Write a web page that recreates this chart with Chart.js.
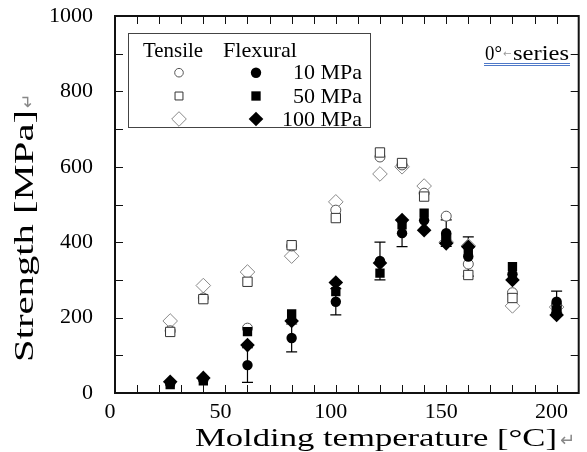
<!DOCTYPE html>
<html>
<head>
<meta charset="utf-8">
<script src="https://cdn.jsdelivr.net/npm/chart.js@4.4.1/dist/chart.umd.min.js"></script>
<style>
  html, body { margin: 0; padding: 0; background: #fff; }
  #wrap { position: relative; width: 587px; height: 452px; }
</style>
</head>
<body>
<div id="wrap"><canvas id="strength-chart"></canvas></div>
<script>
// molding temperature [°C]
const temperatures = [25, 40, 60, 80, 100, 120, 130, 140, 150, 160, 180, 200];

// tensile strength [MPa] (open markers)
const tensile10 = [165, 252, 172, 390, 485, 626, 605, 530, 469, 342, 266, 235];
const tensile50 = [162, 249, 295, 392, 464, 638, 610, 521, 410, 313, 252, 225];
const tensile100 = [191, 285, 321, 363, 507, 581, 600, 549, 400, 390, 231, 228];

// flexural strength [MPa] (filled markers)
const flexural10 = [25, 35, 74, 146, 242, 350, 424, 458, 424, 362, 315, 242];
const flexural10Err = [0, 0, 46, 37, 35, 50, 36, 0, 35, 52, 0, 28];
const flexural50 = [22, 32, 163, 210, 269, 318, 446, 477, 415, 372, 335, 220];
const flexural100 = [30, 40, 127, 191, 293, 345, 459, 432, 397, 388, 300, 207];

const pressureLabels = ['10 MPa', '50 MPa', '100 MPa'];

const SERIF = '"Liberation Serif", "Times New Roman", serif';

function points(values) {
    return temperatures.map((t, i) => ({x: t, y: values[i]}));
}

const styles = {
    t10: {pointStyle: 'circle', radius: 5, color: '#555'},
    t50: {pointStyle: 'rect', radius: 6.6, color: '#333'},
    t100: {pointStyle: 'rectRot', radius: 7.3, color: '#888'},
    f10: {pointStyle: 'circle', radius: 5.2},
    f50: {pointStyle: 'rect', radius: 6.6},
    f100: {pointStyle: 'rectRot', radius: 7.3}
};

function openSet(label, values, st) {
    return {
        label: label,
        data: points(values),
        pointStyle: st.pointStyle,
        pointRadius: st.radius,
        pointHoverRadius: st.radius,
        backgroundColor: '#fff',
        borderColor: st.color,
        pointBorderWidth: 1,
        showLine: false
    };
}

function filledSet(label, values, st) {
    return {
        label: label,
        data: points(values),
        pointStyle: st.pointStyle,
        pointRadius: st.radius,
        pointHoverRadius: st.radius,
        backgroundColor: '#000',
        borderColor: '#000',
        pointBorderWidth: 0,
        showLine: false
    };
}

// text squeezed or widened to a given width (the source font is wider than Times)
function wideText(ctx, text, x, y, width) {
    const s = width / ctx.measureText(text).width;
    ctx.save();
    ctx.translate(x, y);
    ctx.scale(s, 1);
    ctx.fillText(text, 0, 0);
    ctx.restore();
}

// error bars for flexural 10 MPa, drawn under the markers
const errorBars = {
    id: 'errorBars',
    beforeDatasetsDraw(chart) {
        const ctx = chart.ctx;
        const xs = chart.scales.x, ys = chart.scales.y;
        ctx.save();
        ctx.strokeStyle = '#000';
        ctx.lineWidth = 1.2;
        temperatures.forEach((t, i) => {
            const e = flexural10Err[i];
            if (!e) return;
            const px = xs.getPixelForValue(t);
            const top = ys.getPixelForValue(flexural10[i] + e);
            const bot = ys.getPixelForValue(flexural10[i] - e);
            ctx.beginPath();
            ctx.moveTo(px, top); ctx.lineTo(px, bot);
            ctx.moveTo(px - 5.5, top); ctx.lineTo(px + 5.5, top);
            ctx.moveTo(px - 5.5, bot); ctx.lineTo(px + 5.5, bot);
            ctx.stroke();
        });
        ctx.restore();
    }
};

// box frame with inward ticks on all four sides
const frame = {
    id: 'frame',
    afterDraw(chart) {
        const ctx = chart.ctx;
        const a = chart.chartArea;
        const xs = chart.scales.x, ys = chart.scales.y;
        ctx.save();
        ctx.strokeStyle = '#111';
        ctx.lineWidth = 1;
        ctx.beginPath();
        for (let v = 10; v < 210; v += 10) {
            const px = Math.round(xs.getPixelForValue(v)) + 0.5;
            ctx.moveTo(px, a.bottom); ctx.lineTo(px, a.bottom - 8);
            ctx.moveTo(px, a.top); ctx.lineTo(px, a.top + 8);
        }
        for (let v = 100; v < 1000; v += 100) {
            const py = Math.round(ys.getPixelForValue(v)) + 0.5;
            ctx.moveTo(a.left, py); ctx.lineTo(a.left + 8, py);
            ctx.moveTo(a.right, py); ctx.lineTo(a.right - 8, py);
        }
        ctx.stroke();
        ctx.lineWidth = 2;
        ctx.strokeRect(a.left, a.top, a.right - a.left, a.bottom - a.top);
        ctx.restore();
    }
};

// axis titles, legend box and series note
const annotations = {
    id: 'annotations',
    afterDraw(chart) {
        const ctx = chart.ctx;
        ctx.save();
        ctx.textAlign = 'left';
        ctx.textBaseline = 'alphabetic';

        // x title
        ctx.fillStyle = '#000';
        ctx.font = '25px ' + SERIF;
        wideText(ctx, 'Molding temperature [°C]', 195, 446, 362);
        ctx.fillStyle = '#888';
        ctx.font = '18px "DejaVu Sans", sans-serif';
        ctx.fillText('↵', 560, 446);

        // y title
        ctx.save();
        ctx.translate(33, 362);
        ctx.rotate(-Math.PI / 2);
        ctx.fillStyle = '#000';
        ctx.font = '28px ' + SERIF;
        wideText(ctx, 'Strength [MPa]', 0, 0, 252);
        ctx.fillStyle = '#888';
        ctx.font = '17px "DejaVu Sans", sans-serif';
        ctx.fillText('↵', 254, 0);
        ctx.restore();

        // series note top right
        ctx.fillStyle = '#000';
        ctx.font = '20px ' + SERIF;
        wideText(ctx, '0°', 485, 60, 17);
        ctx.fillStyle = '#999';
        ctx.font = '10px "DejaVu Sans", sans-serif';
        ctx.fillText('←', 503, 57);
        ctx.fillStyle = '#000';
        ctx.font = '20px ' + SERIF;
        wideText(ctx, 'series', 513, 60, 56);
        ctx.strokeStyle = '#4f79c8';
        ctx.lineWidth = 1;
        ctx.beginPath();
        ctx.moveTo(484, 63.5); ctx.lineTo(570, 63.5);
        ctx.moveTo(484, 65.5); ctx.lineTo(570, 65.5);
        ctx.stroke();

        // legend box
        ctx.strokeStyle = '#444';
        ctx.lineWidth = 1;
        ctx.strokeRect(128.5, 33.5, 242, 94);
        ctx.fillStyle = '#000';
        ctx.font = '21px ' + SERIF;
        wideText(ctx, 'Tensile', 143, 57, 60);
        wideText(ctx, 'Flexural', 223, 57, 74);
        const rows = [72.7, 96, 119];
        const openStyles = [styles.t10, styles.t50, styles.t100];
        const fillStyles = [styles.f10, styles.f50, styles.f100];
        ctx.textAlign = 'right';
        ctx.textBaseline = 'middle';
        rows.forEach((y, i) => {
            const o = openStyles[i];
            ctx.fillStyle = '#fff';
            ctx.strokeStyle = o.color;
            ctx.lineWidth = 1;
            Chart.helpers.drawPoint(ctx, {pointStyle: o.pointStyle, radius: i === 0 ? 4.3 : (i === 1 ? 5.6 : 7.3), rotation: 0, borderWidth: 1}, 179, y);
            const f = fillStyles[i];
            ctx.fillStyle = '#000';
            ctx.strokeStyle = '#000';
            Chart.helpers.drawPoint(ctx, {pointStyle: f.pointStyle, radius: f.radius, rotation: 0, borderWidth: 0}, 256, y);
            ctx.fillStyle = '#000';
            ctx.font = '22px ' + SERIF;
            ctx.fillText(pressureLabels[i], 362, y + 1);
        });
        ctx.restore();
    }
};

const canvas = document.querySelector('#strength-chart');
new Chart(canvas.getContext('2d'), {
    type: 'scatter',
    data: {
        datasets: [
            filledSet('Flexural 100 MPa', flexural100, styles.f100),
            filledSet('Flexural 50 MPa', flexural50, styles.f50),
            filledSet('Flexural 10 MPa', flexural10, styles.f10),
            openSet('Tensile 50 MPa', tensile50, styles.t50),
            openSet('Tensile 10 MPa', tensile10, styles.t10),
            openSet('Tensile 100 MPa', tensile100, styles.t100)
        ]
    },
    options: {
        responsive: true,
        maintainAspectRatio: false,
        animation: false,
        layout: {padding: {top: 16, right: 4, left: 0, bottom: 0}},
        plugins: {
            legend: {display: false},
            tooltip: {enabled: false}
        },
        scales: {
            x: {
                type: 'linear',
                min: 0,
                max: 210,
                grid: {display: false, drawTicks: false},
                border: {display: false},
                ticks: {
                    stepSize: 50,
                    includeBounds: false,
                    padding: 6,
                    labelOffset: -5,
                    maxRotation: 0,
                    color: '#000',
                    font: {family: SERIF, size: 22}
                },
                afterFit(scale) {
                    scale.height = 59;
                    scale.paddingLeft = 0;
                    scale.paddingRight = 0;
                }
            },
            y: {
                min: 0,
                max: 1000,
                grid: {display: false, drawTicks: false},
                border: {display: false},
                ticks: {
                    stepSize: 200,
                    padding: 22,
                    color: '#000',
                    font: {family: SERIF, size: 22},
                    callback: (v) => String(v)
                },
                afterFit(scale) {
                    scale.width = 115;
                    scale.paddingTop = 0;
                    scale.paddingBottom = 0;
                }
            }
        }
    },
    plugins: [errorBars, frame, annotations]
});
</script>
</body>
</html>
